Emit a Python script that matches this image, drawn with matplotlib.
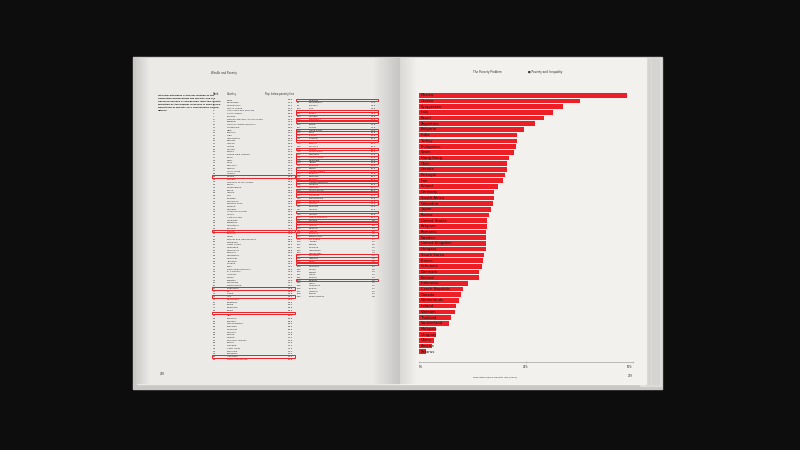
import numpy as np
import matplotlib.pyplot as plt
from matplotlib.patches import Rectangle

# chart data (right page), % below poverty line
countries = ['Mexico', 'Greece', 'Kyrgyzstan', 'Italy', 'Brazil', 'Argentina',
             'Bulgaria', 'India', 'Turkey', 'Philippines', 'Spain', 'Hong Kong',
             'Chile', 'Croatia', 'Portugal', 'Iran', 'Poland', 'Germany',
             'South Africa', 'Colombia', 'Japan', 'Russia', 'United States',
             'Belgium', 'Romania', 'Sweden', 'United Kingdom', 'Hungary',
             'South Korea', 'France', 'Lithuania', 'Denmark', 'Finland',
             'Indonesia', 'Czech Republic', 'Canada', 'Netherlands', 'Ireland',
             'Vietnam', 'Thailand', 'Switzerland', 'Malaysia', 'Uruguay', 'China',
             'Austria', 'Belarus']
values = [48.5, 37.7, 33.6, 31.4, 29.1, 27.0, 24.6, 23.0, 23.0, 22.6, 22.1, 21.0,
          20.5, 20.5, 20.0, 19.7, 18.5, 17.5, 17.5, 17.3, 16.8, 16.3, 15.8, 15.8,
          15.7, 15.7, 15.7, 15.6, 15.1, 14.9, 14.7, 14.0, 14.0, 11.5, 10.2, 9.8,
          9.3, 8.6, 8.4, 7.5, 7.0, 4.0, 4.0, 3.5, 3.1, 1.6]
x_ticks = [0, 25, 50]
x_ticklabels = ['0%', '25%', '50%']

# remaining rows of the ranking table (left page)
other_countries = [
    'Syria', 'Zimbabwe', 'Madagascar', 'Sierra Leone', 'Sao Tome and Principe',
    'South Sudan', 'Burundi', 'Democratic Rep. of the Congo', 'Eswatini',
    'Central African Republic', 'Guatemala', 'Haiti', 'Lesotho', 'Togo',
    'Afghanistan', 'Zambia', 'Guinea', 'Liberia', 'Malawi', 'Eritrea',
    'Papua New Guinea', 'Benin', 'Niger', 'Chad', 'Comoros', 'Nigeria',
    'Timor-Leste', 'Yemen',
    'Gambia', 'Republic of the Congo', 'Sudan', 'Mozambique', 'Kenya', 'Angola',
    'Mali', 'Ethiopia', 'Cameroon', 'Burkina Faso', 'Djibouti', 'Namibia',
    'Solomon Islands', 'Ghana', "Cote d'Ivoire", 'Honduras', 'Tajikistan',
    'Mauritania', 'Senegal',
    'Rwanda', 'Nepal', 'Bosnia and Herzegovina', 'Botswana', 'Cabo Verde',
    'Nicaragua', 'Micronesia', 'Somalia', 'Uzbekistan', 'Myanmar', 'Jamaica',
    'Guyana', 'Laos', 'Dominican Republic', 'El Salvador', 'Armenia', 'Gabon',
    'Pakistan', 'Cambodia', 'North Korea',
    'Fiji', 'Tonga',
    'Venezuela', 'Paraguay', 'Belize', 'Suriname', 'Egypt',
    'Iraq', 'Lebanon', 'Panama', 'Guinea-Bissau', 'Tanzania', 'Mongolia',
    'Vanuatu', 'Samoa', 'Kiribati', 'Marshall Islands', 'Tuvalu', 'Grenada',
    'Saint Lucia', 'Dominica', 'Barbados',
    'North Macedonia',
    'Bangladesh', 'Ecuador', 'Peru', 'Georgia', 'Latvia', 'Bolivia', 'Estonia',
    'Morocco', 'Montenegro', 'Slovenia', 'Australia', 'Luxembourg', 'Slovakia',
    'Norway', 'Iceland', 'Albania', 'Sri Lanka', 'Jordan', 'Tunisia', 'Moldova',
    'Azerbaijan', 'Kazakhstan', 'Mauritius', 'Macau', 'Kuwait', 'Oman',
    'Bhutan', 'Qatar', 'Singapore', 'Taiwan', 'Andorra', 'Brunei',
    'Turkmenistan']
other_values = [
    82.5, 72.3, 70.7, 70.2, 66.2, 66.0, 64.6, 63.9, 63.0, 62.0, 59.3, 58.5, 57.1,
    55.1, 54.5, 54.4, 53.0, 50.9, 50.7, 50.0, 49.8, 49.5, 49.3, 49.1, 49.0, 48.9,
    48.7, 48.6,
    48.4, 46.5, 46.5, 46.1, 45.2, 44.8, 44.0, 43.5, 42.8, 41.4, 41.0, 40.6, 40.1,
    39.8, 39.5, 39.2, 38.8, 38.3, 37.9,
    37.5, 37.2, 36.9, 36.6, 36.2, 36.0, 35.8, 35.5, 35.2, 34.9, 34.6, 34.3, 34.1,
    34.0, 33.9, 33.9, 33.8, 33.8, 33.7, 33.7,
    32.8, 32.0,
    31.0, 30.5, 30.1, 29.8, 29.5,
    28.9, 28.6, 28.5, 28.3, 28.2, 28.0, 27.9, 27.8, 27.7, 27.6, 27.5, 27.4, 27.3,
    27.2, 27.1,
    25.5,
    24.3, 23.9, 23.5, 22.8, 21.8, 21.5, 19.4, 19.0, 18.0, 16.6, 15.4, 14.3, 12.6,
    12.2, 10.9, 8.0, 6.7, 6.0, 5.5, 5.2, 4.9, 4.3, 2.9, 2.6, 2.4, 2.2, 2.0, 1.5,
    1.2, 1.1, 1.0, 0.9, 0.6]

RED = '#ec1f26'
INK = '#2a2a2a'

fig = plt.figure(figsize=(8, 4.5), dpi=100)
fig.patch.set_facecolor('#0d0d0d')

bg = fig.add_axes([0, 0, 1, 1])
bg.set_facecolor('#0d0d0d')
bg.axis('off')

# book: cover, page block, two pages
bg.add_patch(Rectangle((133, 57), 529, 332, color='#c9c8c5', zorder=1))
bg.add_patch(Rectangle((640, 58), 21, 328, color='#dddcd8', zorder=2))
for xe in np.arange(646, 661, 2.2):
    bg.plot([xe, xe], [59, 385], color='#b9b8b4', lw=0.3, zorder=2)
bg.add_patch(Rectangle((137, 58), 263, 326, color='#ebeae7', zorder=3))
bg.add_patch(Rectangle((400, 58), 246, 326, color='#f2f1ee', zorder=3))


def shade(x0, x1, y0, y1, a0, a1, rgb=(0, 0, 0)):
    arr = np.zeros((1, 64, 4))
    arr[..., :3] = rgb
    arr[0, :, 3] = np.linspace(a0, a1, 64)
    bg.imshow(arr, extent=(x0, x1, y1, y0), aspect='auto',
              interpolation='bilinear', zorder=4)


shade(137, 150, 58, 384, 0.12, 0.0)
shade(372, 400, 58, 384, 0.0, 0.16)
shade(400, 418, 58, 384, 0.10, 0.0)

# left page
bg.text(224, 73, 'Wealth and Poverty', fontsize=1.9, color=INK,
        ha='center', va='center', zorder=5)
para = ['National estimates of the percentage of the',
        'population falling below the poverty line are',
        'based on surveys of sub-groups, with the results',
        'weighted by the number of people in each group.',
        'Definitions of poverty vary considerably among',
        'nations.']
for k, line in enumerate(para):
    bg.text(158, 95.5 + k * 3.0, line, fontsize=1.6, fontweight='bold',
            color='#1e1e1e', va='center', zorder=5)

bg.text(213, 94.3, 'Rank', fontsize=1.8, color=INK, va='center', zorder=5)
bg.text(227, 94.3, 'Country', fontsize=1.8, color=INK, va='center', zorder=5)
bg.text(294, 94.3, 'Pop. below poverty line', fontsize=1.8, color=INK,
        ha='right', va='center', zorder=5)

rows = sorted(zip(countries + other_countries, values + other_values),
              key=lambda r: -r[1])
step = 2.73
split = 96
for i, (name, val) in enumerate(rows):
    if i < split:
        xr, xc, xv, y = 213, 227, 293, 100 + i * step
    else:
        xr, xc, xv, y = 297, 309, 376, 100 + (i - split) * step
    bg.text(xr, y, str(i + 1), fontsize=1.7, color=INK, va='center', zorder=5)
    bg.text(xc, y, name, fontsize=1.7, color=INK, va='center', zorder=5)
    bg.text(xv, y, f'{val:.1f}', fontsize=1.7, color=INK, ha='right',
            va='center', zorder=5)
    if name in countries:
        bg.add_patch(Rectangle((xr - 1, y - 1.3), xv - xr + 2.5, 2.6,
                               fill=False, ec=RED, lw=0.7, zorder=6))

bg.text(160, 374, '278', fontsize=1.9, color=INK, va='center', zorder=5)

# right page headers and footer
bg.text(473, 72.5, 'The Poverty Problem', fontsize=2.0, color=INK,
        va='center', zorder=5)
bg.text(528, 72.5, '\u25a0 Poverty and Inequality', fontsize=2.0, color=INK,
        va='center', zorder=5)
bg.text(473, 377, 'Population below poverty line (2016)', fontsize=1.7,
        color=INK, va='center', zorder=5)
bg.text(633, 376, '279', fontsize=1.9, color=INK, ha='right', va='center',
        zorder=5)

bg.set_xlim(0, 800)
bg.set_ylim(450, 0)

# bar chart on the right page
ax = fig.add_axes([419 / 800, 1 - 362 / 450, 214 / 800, (362 - 93) / 450])
ax.set_facecolor('none')
ypos = np.arange(len(countries))
ax.barh(ypos, values, height=0.8, color=RED, zorder=2)
for y, name in zip(ypos, countries):
    ax.text(0.45, y, name, fontsize=2.7, color='#151515', va='center',
            ha='left', zorder=3)
ax.set_xlim(0, 50)
ax.set_ylim(46.8, -0.4)
for s in ['top', 'right', 'left']:
    ax.spines[s].set_visible(False)
ax.spines['bottom'].set_color('#b0b0ae')
ax.spines['bottom'].set_linewidth(0.6)
ax.set_yticks([])
ax.set_xticks(x_ticks)
ax.set_xticklabels(x_ticklabels)
ax.tick_params(axis='x', length=1.5, width=0.4, color='#9a9a98', pad=1.2,
               labelsize=1.9, labelcolor=INK, direction='inout')
lbls = ax.get_xticklabels()
lbls[0].set_ha('left')
lbls[-1].set_ha('right')

fig.savefig('out.png', dpi=100, facecolor=fig.get_facecolor())
